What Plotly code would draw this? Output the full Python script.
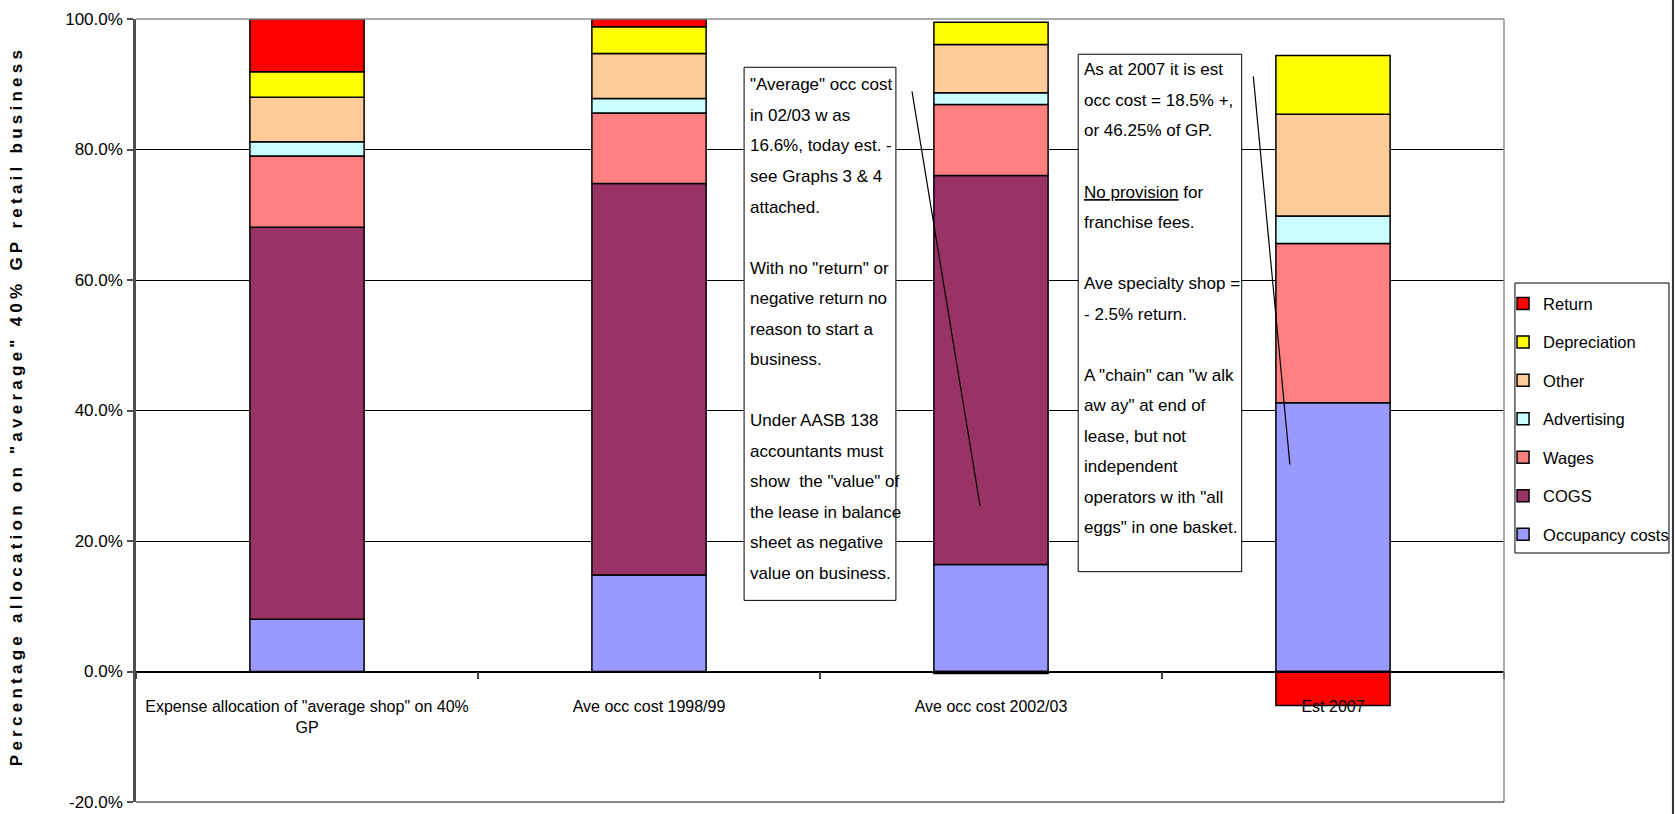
import plotly.graph_objects as go

# ---------------- data ----------------
categories = [
    'Expense allocation of "average shop" on 40%<br>GP',
    "Ave occ cost 1998/99",
    "Ave occ cost 2002/03",
    "Est 2007",
]
occupancy = [8.0, 14.8, 16.4, 41.2]
cogs = [60.1, 60.0, 59.6, None]
wages = [10.9, 10.8, 10.9, 24.4]
advertising = [2.2, 2.2, 1.8, 4.2]
other = [6.8, 6.9, 7.4, 15.6]
depreciation = [3.9, 4.1, 3.4, 9.0]
returns = [8.1, 1.2, -0.3, -5.2]

series_names = ["Occupancy costs", "COGS", "Wages", "Advertising", "Other", "Depreciation", "Return"]
series_values = [occupancy, cogs, wages, advertising, other, depreciation, returns]
series_colors = ["#9999FF", "#993366", "#FF8080", "#CCFFFF", "#FFCC99", "#FFFF00", "#FF0000"]

y_tick_values = [-20, 0, 20, 40, 60, 80, 100]
y_tick_labels = ["-20.0%", "0.0%", "20.0%", "40.0%", "60.0%", "80.0%", "100.0%"]

y_title = 'Percentage allocation on "average" 40% GP retail business'

note1_lines = [
    '"Average" occ cost',
    "in 02/03 w as",
    "16.6%, today est. -",
    "see Graphs 3 & 4",
    "attached.",
    "",
    'With no "return" or',
    "negative return no",
    "reason to start a",
    "business.",
    "",
    "Under AASB 138",
    "accountants must",
    'show  the "value" of',
    "the lease in balance",
    "sheet as negative",
    "value on business.",
]
note2_lines = [
    "As at 2007 it is est",
    "occ cost = 18.5% +,",
    "or 46.25% of GP.",
    "",
    "<u>No provision</u> for",
    "franchise fees.",
    "",
    "Ave specialty shop =",
    "- 2.5% return.",
    "",
    'A "chain" can "w alk',
    'aw ay" at end of',
    "lease, but not",
    "independent",
    'operators w ith "all',
    'eggs" in one basket.',
]

# annotation geometry (data units: category index / percent)
note1_box = (1.278, 1.722, 10.9, 92.6)
note2_box = (2.255, 2.733, 15.3, 94.6)
note1_first = 89.9
note2_first = 92.2
line_step = 4.68
leader1 = (1.769, 88.9, 1.968, 25.4)
leader2 = (2.767, 91.2, 2.874, 31.7)

FONT = "Liberation Sans, Arial, sans-serif"

fig = go.Figure()
n = len(series_names)
for i, (name, vals, col) in enumerate(zip(series_names, series_values, series_colors)):
    fig.add_trace(go.Bar(
        name=name, x=categories, y=vals, width=0.334,
        marker=dict(color=col, line=dict(color="black", width=1.5)),
        legendgroup=name, legendrank=n - i,
    ))

shapes = []
annotations = []

# plot-area border (top, right, bottom) and outer chart border on right
shapes.append(dict(type="line", xref="paper", yref="paper", x0=0, x1=1, y0=1, y1=1,
                   line=dict(color="#8c8c8c", width=1.5), layer="above"))
shapes.append(dict(type="line", xref="paper", yref="paper", x0=1, x1=1, y0=0, y1=1,
                   line=dict(color="#8c8c8c", width=1.5), layer="above"))
shapes.append(dict(type="line", xref="paper", yref="paper", x0=0, x1=1, y0=0, y1=0,
                   line=dict(color="#606060", width=1.5), layer="above"))
shapes.append(dict(type="line", xref="paper", yref="paper", x0=1.1235, x1=1.1235, y0=-0.03, y1=1.04,
                   line=dict(color="#303030", width=2), layer="above"))

# legend frame
shapes.append(dict(type="rect", xref="paper", yref="paper", x0=1.0080, x1=1.1206, y0=0.3180, y1=0.6628,
                   line=dict(color="black", width=1), fillcolor="rgba(0,0,0,0)", layer="above"))

# note boxes and leader lines
for (x0, x1, y0, y1) in (note1_box, note2_box):
    shapes.append(dict(type="rect", xref="x", yref="y", x0=x0, x1=x1, y0=y0, y1=y1,
                       line=dict(color="black", width=1), fillcolor="white", layer="above"))
for (x0, y0, x1, y1) in (leader1, leader2):
    shapes.append(dict(type="line", xref="x", yref="y", x0=x0, y0=y0, x1=x1, y1=y1,
                       line=dict(color="black", width=1.2), layer="above"))

for box, first, lines in ((note1_box, note1_first, note1_lines), (note2_box, note2_first, note2_lines)):
    for i, txt in enumerate(lines):
        if not txt:
            continue
        annotations.append(dict(
            xref="x", yref="y", x=box[0], y=first - i * line_step,
            xanchor="left", yanchor="middle", xshift=4, showarrow=False,
            text=txt, font=dict(family=FONT, size=17, color="black"), align="left",
        ))

# y-axis title (letter spaced, bold)
annotations.append(dict(
    xref="paper", yref="paper", x=-0.0877, y=0.503, xanchor="center", yanchor="middle",
    textangle=-90, showarrow=False,
    text="<b>" + "\u2005".join(y_title) + "</b>",
    font=dict(family=FONT, size=17, color="black"),
))

fig.update_layout(
    width=1676, height=814,
    margin=dict(l=136, r=172, t=19, b=12, pad=0, autoexpand=False),
    paper_bgcolor="white", plot_bgcolor="white",
    barmode="relative",
    font=dict(family=FONT, color="black"),
    showlegend=True,
    legend=dict(
        x=0.9993, xanchor="left", y=0.6587, yanchor="top",
        traceorder="grouped", tracegroupgap=14,
        bgcolor="rgba(0,0,0,0)", borderwidth=0,
        font=dict(family=FONT, size=16.5, color="black"),
    ),
    xaxis=dict(
        type="category", range=[-0.5, 3.5], domain=[0, 1],
        anchor="free", position=20 / 120, automargin=False,
        showline=True, linecolor="black", linewidth=1.5,
        ticks="outside", tickson="boundaries", ticklen=7, tickcolor="#404040", tickwidth=1.5,
        tickfont=dict(family=FONT, size=16, color="black"),
        ticklabelstandoff=21,
        showgrid=False, zeroline=False, tickangle=0,
    ),
    yaxis=dict(
        range=[-20, 100], domain=[0, 1], automargin=False,
        tickvals=y_tick_values, ticktext=y_tick_labels,
        showgrid=True, gridcolor="black", gridwidth=1,
        zeroline=False,
        showline=True, linecolor="#505050", linewidth=2.5,
        ticks="outside", ticklen=6, tickcolor="#505050", tickwidth=1.5,
        tickfont=dict(family=FONT, size=17, color="black"),
        ticklabelstandoff=1, ticklabeloverflow="allow",
    ),
    shapes=shapes,
    annotations=annotations,
)

fig.write_html("out.html")
